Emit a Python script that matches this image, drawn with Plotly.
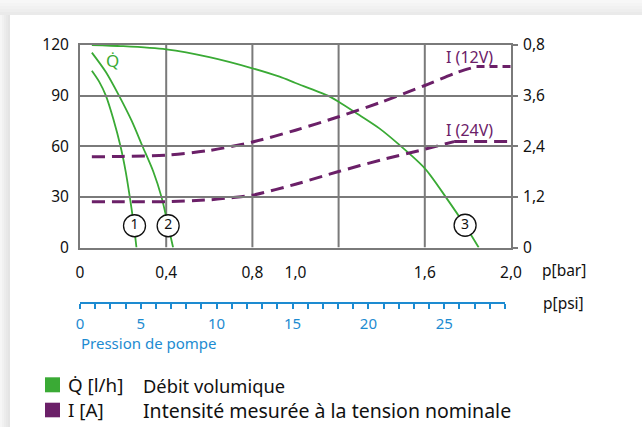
import plotly.graph_objects as go

# ---- data -------------------------------------------------------------
# Flow Q̇ [l/h] versus pump pressure p [bar] for pump variants 1, 2 and 3
p_curve1 = [0.055, 0.09, 0.12, 0.155, 0.188, 0.212, 0.231, 0.25, 0.262]
q_curve1 = [104.7, 98, 90, 76, 60, 45, 30, 13, 0]
p_curve2 = [0.055, 0.12, 0.181, 0.24, 0.29, 0.34, 0.378, 0.409, 0.432]
q_curve2 = [115.5, 104, 90, 75, 60, 45, 30, 13, 0]
p_curve3 = [0.055, 0.2, 0.4, 0.6, 0.8, 0.926, 1.0, 1.15, 1.2, 1.296, 1.389,
            1.474, 1.6, 1.7, 1.787, 1.85]
q_curve3 = [120, 119.3, 117.4, 112.8, 106.2, 101.2, 97.5, 90, 86.4, 78.5, 70.6,
            61.7, 46.9, 29.4, 13, 0]

# Current draw I [A] at 12 V and 24 V (right axis)
p_i12 = [0.055, 0.2, 0.4, 0.6, 0.8, 1.0, 1.2, 1.4, 1.6, 1.75, 1.84]
i_12 = [2.15, 2.16, 2.19, 2.3, 2.5, 2.78, 3.1, 3.45, 3.84, 4.15, 4.29]
p_i12_end = [1.84, 2.0]
i_12_end = [4.29, 4.29]
p_i24 = [0.055, 0.2, 0.4, 0.6, 0.7, 0.8, 1.0, 1.2, 1.4, 1.6, 1.736]
i_24 = [1.085, 1.085, 1.085, 1.13, 1.18, 1.24, 1.5, 1.8, 2.08, 2.33, 2.51]
p_i24_end = [1.736, 2.0]
i_24_end = [2.51, 2.51]

# Curve markers (number, pressure, flow)
marker_ids = ["1", "2", "3"]
marker_p = [0.253, 0.409, 1.787]
marker_q = [12.9, 12.9, 13.2]

# Axis ticks
bar_ticks = [0, 0.4, 0.8, 1.0, 1.6, 2.0]
bar_labels = ["0", "0,4", "0,8", "1,0", "1,6", "2,0"]
bar_grid = [0.4, 0.8, 1.2, 1.6]
q_ticks = [0, 30, 60, 90, 120]
i_ticks = [0, 1.2, 2.4, 3.6, 4.8]
i_labels = ["0", "1,2", "2,4", "3,6", "0,8"]
psi_ticks = [0, 4, 9, 14, 19, 24]
psi_labels = ["0", "5", "10", "15", "20", "25"]

# ---- style ------------------------------------------------------------
GREEN = "#3aaa35"
PURPLE = "#6b2068"
BLUE = "#1d8bd1"
GRID = "#7a7a7a"
FONT = "Noto Sans"
W, H = 642, 427
ML, MR, MT, MB = 80, 131, 45, 124
PW, PH = W - ML - MR, H - MT - MB
MAIN_BOTTOM = (H - MB - 247.5) / PH


def px(x):
    return (x - ML) / PW


def py(y):
    return (H - MB - y) / PH


fig = go.Figure()

for pc, qc in [(p_curve1, q_curve1), (p_curve2, q_curve2), (p_curve3, q_curve3)]:
    fig.add_trace(go.Scatter(x=pc, y=qc, mode="lines", line=dict(color=GREEN, width=1.8, shape="spline", smoothing=0.8),
                             hoverinfo="skip", showlegend=False))

dash = "13px,7px"
fig.add_trace(go.Scatter(x=p_i12, y=i_12, yaxis="y2", mode="lines",
                         line=dict(color=PURPLE, width=3, dash=dash, shape="spline", smoothing=0.8),
                         hoverinfo="skip", showlegend=False))
fig.add_trace(go.Scatter(x=p_i12_end, y=i_12_end, yaxis="y2", mode="lines",
                         line=dict(color=PURPLE, width=3, dash="8px,5px"),
                         hoverinfo="skip", showlegend=False))
fig.add_trace(go.Scatter(x=p_i24, y=i_24, yaxis="y2", mode="lines",
                         line=dict(color=PURPLE, width=3, dash=dash, shape="spline", smoothing=0.8),
                         hoverinfo="skip", showlegend=False))
fig.add_trace(go.Scatter(x=p_i24_end, y=i_24_end, yaxis="y2", mode="lines",
                         line=dict(color=PURPLE, width=3, dash=dash),
                         hoverinfo="skip", showlegend=False))

fig.add_trace(go.Scatter(x=marker_p, y=marker_q, mode="markers+text", text=marker_ids,
                         textposition="middle center",
                         textfont=dict(family=FONT, size=14, color="#111"),
                         marker=dict(size=22, color="white", line=dict(color="#111", width=1.3)),
                         hoverinfo="skip", showlegend=False))

# carrier trace for the psi axis
fig.add_trace(go.Scatter(x=[0, 28], y=[None, None], xaxis="x2", mode="markers",
                         marker=dict(opacity=0), hoverinfo="skip", showlegend=False))

shapes = []
# page shadow around the white card
for i, c in enumerate(["#f7f7f7", "#f4f4f4", "#f1f1f1", "#eeeeee", "#eaeaea"]):
    shapes.append(dict(type="rect", xref="paper", yref="paper", layer="below",
                       x0=px(0), x1=px(W), y0=py(i * 3), y1=py(i * 3 + 3),
                       fillcolor=c, line=dict(width=0)))
for i, c in enumerate(["#f6f6f6", "#f1f1f1", "#ececec", "#e8e8e8", "#e4e4e4"]):
    shapes.append(dict(type="rect", xref="paper", yref="paper", layer="below",
                       x0=px(i * 2), x1=px(i * 2 + 2), y0=py(15), y1=py(H),
                       fillcolor=c, line=dict(width=0)))

# vertical grid lines
for g in bar_grid:
    shapes.append(dict(type="line", xref="x", yref="y", x0=g, x1=g, y0=0, y1=120,
                       line=dict(color=GRID, width=2), layer="below"))

# legend swatches
shapes.append(dict(type="rect", xref="paper", yref="paper", x0=px(45), x1=px(60),
                   y0=py(392.3), y1=py(377.3), fillcolor=GREEN, line=dict(width=0)))
shapes.append(dict(type="rect", xref="paper", yref="paper", x0=px(45), x1=px(60),
                   y0=py(417.3), y1=py(402.7), fillcolor=PURPLE, line=dict(width=0)))

annotations = [
    dict(x=0.153, y=111, xref="x", yref="y", text="Q\u0307", showarrow=False,
         font=dict(family=FONT, size=17, color=GREEN)),
    dict(x=1.806, y=113, xref="x", yref="y", text="I (12V)", showarrow=False,
         font=dict(family=FONT, size=16, color=PURPLE)),
    dict(x=1.806, y=69.6, xref="x", yref="y", text="I (24V)", showarrow=False,
         font=dict(family=FONT, size=16, color=PURPLE)),
    dict(x=px(540), y=py(270), xref="paper", yref="paper", xanchor="left", yanchor="middle",
         text="p[bar]", showarrow=False, font=dict(family=FONT, size=15.5, color="#111")),
    dict(x=px(541), y=py(303), xref="paper", yref="paper", xanchor="left", yanchor="middle",
         text="p[psi]", showarrow=False, font=dict(family=FONT, size=15.5, color="#111")),
    dict(x=px(79), y=py(343), xref="paper", yref="paper", xanchor="left", yanchor="middle",
         text="Pression de pompe", showarrow=False, font=dict(family=FONT, size=15, color=BLUE)),
    dict(x=px(66), y=py(385), xref="paper", yref="paper", xanchor="left", yanchor="middle",
         text="Q\u0307 [l/h]", showarrow=False, font=dict(family=FONT, size=18.8, color="#111")),
    dict(x=px(141), y=py(385), xref="paper", yref="paper", xanchor="left", yanchor="middle",
         text="Débit volumique", showarrow=False, font=dict(family=FONT, size=18.3, color="#111")),
    dict(x=px(66), y=py(410), xref="paper", yref="paper", xanchor="left", yanchor="middle",
         text="I [A]", showarrow=False, font=dict(family=FONT, size=18.8, color="#111")),
    dict(x=px(141), y=py(410), xref="paper", yref="paper", xanchor="left", yanchor="middle",
         text="Intensité mesurée à la tension nominale", showarrow=False,
         font=dict(family=FONT, size=19.5, color="#111")),
]

tickfont = dict(family=FONT, size=15.5, color="#111")
fig.update_layout(
    width=W, height=H,
    margin=dict(l=ML, r=MR, t=MT, b=MB, pad=0),
    paper_bgcolor="white", plot_bgcolor="rgba(0,0,0,0)",
    showlegend=False,
    xaxis=dict(range=[0, 2.0], domain=[0, 1], anchor="y", tickvals=bar_ticks, ticktext=bar_labels,
               showgrid=False, zeroline=False, showline=True, mirror=True, linecolor=GRID, linewidth=2,
               ticks="", tickfont=tickfont, ticklabelstandoff=10, fixedrange=True),
    yaxis=dict(range=[0, 120], domain=[MAIN_BOTTOM, 1], anchor="x", tickvals=q_ticks,
               showgrid=True, gridcolor=GRID, gridwidth=2, zeroline=False,
               showline=True, mirror=True, linecolor=GRID, linewidth=2,
               ticks="", tickfont=tickfont, ticklabelstandoff=6),
    yaxis2=dict(range=[0, 4.8], overlaying="y", side="right", anchor="x", tickvals=i_ticks,
                ticktext=i_labels, showgrid=False, zeroline=False, showline=False,
                ticks="outside", ticklen=6, tickwidth=2, tickcolor=GRID, tickfont=tickfont,
                ticklabelstandoff=2),
    xaxis2=dict(range=[0, 28], domain=[0, 425 / PW], anchor="free", position=0,
                tickvals=psi_ticks, ticktext=psi_labels, showgrid=False, zeroline=False,
                showline=True, linecolor=BLUE, linewidth=2,
                ticks="outside", ticklen=5, tickwidth=1.5, tickcolor=BLUE,
                tickfont=dict(family=FONT, size=15, color=BLUE), ticklabelstandoff=2,
                minor=dict(ticks="outside", tick0=0, dtick=1, ticklen=5, tickwidth=1.5,
                           tickcolor=BLUE, showgrid=False)),
    shapes=shapes,
    annotations=annotations,
)

fig.write_html("out.html")
